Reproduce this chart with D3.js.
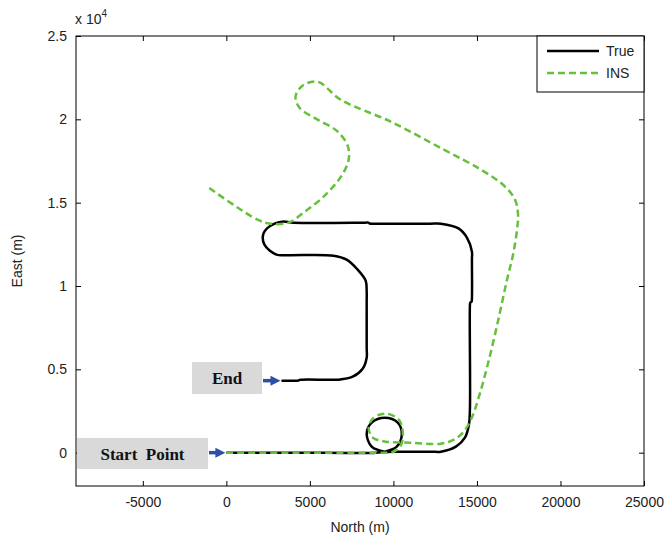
<!DOCTYPE html>
<html>
<head>
<meta charset="utf-8">
<script src="https://cdn.jsdelivr.net/npm/d3@7"></script>
<style>
  body { margin: 0; background: #fff; }
</style>
</head>
<body>
<script>
// track data, [north, east] in metres
var trueTrack = [
  [0, 0], [4000, 0], [9000, 0], [9480, 60], [10200, 360], [10500, 1080], [10260, 1800],
  [9480, 2100], [8700, 1800], [8400, 1140], [8700, 360], [9480, 60], [10140, 60],
  [12300, 60], [12840, 60], [13740, 360], [14280, 900], [14520, 1680], [14580, 2600],
  [14580, 8850], [14600, 9000], [14680, 9060], [14700, 9250], [14700, 11600],
  [14700, 12060], [14400, 12900], [13920, 13440], [12840, 13740], [12200, 13740],
  [8700, 13740], [8580, 13750], [8500, 13800], [8300, 13800], [4020, 13800],
  [3360, 13860], [2640, 13620], [2220, 13140], [2280, 12480], [3000, 11880],
  [3700, 11850], [6420, 11820], [7200, 11580], [7860, 10980], [8340, 10320],
  [8400, 9660], [8400, 9000], [8400, 6300], [8400, 5700], [8160, 5040], [7560, 4560],
  [6720, 4380], [6000, 4380], [4500, 4380], [4380, 4370], [4300, 4320], [4150, 4320],
  [3300, 4320]
];

var insTrack = [
  [0, 0], [5000, 0], [9400, 0], [9960, 40], [10440, 420], [10560, 1260], [10320, 1980],
  [9600, 2340], [8820, 2100], [8520, 1500], [8760, 900], [9540, 660], [11040, 600],
  [12840, 540], [13620, 780], [14160, 1200], [14640, 1980], [15120, 3360], [15720, 5580],
  [16320, 8160], [16800, 10380], [17160, 11880], [17400, 13380], [17460, 14280],
  [17280, 15180], [16620, 16020], [15240, 16980], [13020, 18180], [9840, 19860],
  [6840, 21180], [5460, 22260], [4560, 22020], [4140, 21360], [4380, 20700],
  [5460, 19980], [6600, 19320], [7260, 18420], [7320, 17580], [6900, 16620],
  [5820, 15360], [4620, 14400], [3720, 13800], [2640, 13740], [1860, 13980],
  [-1140, 15960]
];

var xTicks = [-5000, 0, 5000, 10000, 15000, 20000, 25000];
var yTicks = [0, 5000, 10000, 15000, 20000, 25000];
var yTickLabels = ["0", "0.5", "1", "1.5", "2", "2.5"];
var seriesNames = ["True", "INS"];
var seriesColors = ["#000000", "#66c03c"];
var notes = [
  {text: "End", at: [3300, 4320], box: [192, 362, 70, 32]},
  {text: "Start  Point", at: [0, 0], box: [77, 438, 131, 31]}
];

var W = 667, H = 542;
var mLeft = 76, mTop = 36, mRight = 644, mBottom = 486;
var sans = '"Liberation Sans", Arial, sans-serif';

var svg = d3.select('body').append('svg')
  .attr('width', W).attr('height', H);
svg.append('rect').attr('width', W).attr('height', H).attr('fill', '#fff');

var x = d3.scaleLinear().domain([-9000, 25000]).range([mLeft, mRight]);
var y = d3.scaleLinear().domain([-2000, 25000]).range([mBottom, mTop]);

// axes, matlab style ticks pointing in
var xAxis = svg.append('g').attr('transform', 'translate(0,' + mBottom + ')')
  .call(d3.axisBottom(x).tickValues(xTicks).tickSizeInner(-5).tickSizeOuter(0).tickPadding(11)
    .tickFormat(function (d) { return String(d); }));
var yAxis = svg.append('g').attr('transform', 'translate(' + mLeft + ',0)')
  .call(d3.axisLeft(y).tickValues(yTicks).tickSizeInner(-5).tickSizeOuter(0).tickPadding(9)
    .tickFormat(function (d, i) { return yTickLabels[i]; }));
var xTop = svg.append('g').attr('transform', 'translate(0,' + mTop + ')')
  .call(d3.axisTop(x).tickValues(xTicks).tickSizeInner(-5).tickSizeOuter(0).tickFormat(''));
var yRight = svg.append('g').attr('transform', 'translate(' + mRight + ',0)')
  .call(d3.axisRight(y).tickValues(yTicks).tickSizeInner(-5).tickSizeOuter(0).tickFormat(''));

[xAxis, yAxis, xTop, yRight].forEach(function (g) {
  g.select('.domain').remove();
  g.selectAll('line').attr('stroke', '#000');
  g.selectAll('text').attr('font-size', 14).attr('fill', '#222')
    .attr('font-family', sans);
});

svg.append('rect')
  .attr('x', mLeft).attr('y', mTop)
  .attr('width', mRight - mLeft).attr('height', mBottom - mTop)
  .attr('fill', 'none').attr('stroke', '#000').attr('stroke-width', 1);

// exponent label
var ex = svg.append('text').attr('x', 75).attr('y', 24).attr('font-size', 14)
  .attr('fill', '#222').attr('font-family', sans);
ex.append('tspan').text('x 10');
ex.append('tspan').attr('dy', -7).attr('font-size', 10).text('4');

svg.append('text').attr('x', (mLeft + mRight) / 2).attr('y', 532)
  .attr('text-anchor', 'middle').attr('font-size', 14).attr('fill', '#222')
  .attr('font-family', sans)
  .text('North (m)');
svg.append('text')
  .attr('transform', 'translate(22,' + (mTop + mBottom) / 2 + ') rotate(-90)')
  .attr('text-anchor', 'middle').attr('font-size', 14).attr('fill', '#222')
  .attr('font-family', sans)
  .text('East (m)');

var line = d3.line()
  .x(function (d) { return x(d[0]); })
  .y(function (d) { return y(d[1]); })
  .curve(d3.curveCatmullRom.alpha(0.5));

svg.append('path').datum(trueTrack)
  .attr('d', line).attr('fill', 'none')
  .attr('stroke', seriesColors[0]).attr('stroke-width', 2.5)
  .attr('stroke-linejoin', 'round');

svg.append('path').datum(insTrack)
  .attr('d', line).attr('fill', 'none')
  .attr('stroke', seriesColors[1]).attr('stroke-width', 2.5)
  .attr('stroke-dasharray', '7,4');

// annotation boxes and arrows
notes.forEach(function (n) {
  var b = n.box;
  svg.append('rect').attr('x', b[0]).attr('y', b[1]).attr('width', b[2]).attr('height', b[3])
    .attr('fill', '#d9d9d9');
  svg.append('text')
    .attr('x', b[0] + b[2] / 2).attr('y', b[1] + b[3] / 2 + 6)
    .attr('text-anchor', 'middle')
    .attr('font-family', '"Liberation Serif", "Times New Roman", serif')
    .attr('font-weight', 'bold').attr('font-size', 17).attr('fill', '#111')
    .style('white-space', 'pre')
    .text(n.text);
  var tx = x(n.at[0]) - 1, ty = y(n.at[1]);
  var sx = b[0] + b[2] + 1;
  svg.append('line').attr('x1', sx).attr('y1', ty).attr('x2', tx - 8).attr('y2', ty)
    .attr('stroke', '#2f4fa6').attr('stroke-width', 3.5);
  svg.append('path')
    .attr('d', 'M' + tx + ',' + ty + 'L' + (tx - 10) + ',' + (ty - 5) + 'L' + (tx - 10) + ',' + (ty + 5) + 'Z')
    .attr('fill', '#2f4fa6');
});

// legend
var lg = svg.append('g');
lg.append('rect').attr('x', 537).attr('y', mTop).attr('width', mRight - 537).attr('height', 56)
  .attr('fill', '#fff').attr('stroke', '#000').attr('stroke-width', 1);
seriesNames.forEach(function (name, i) {
  var ly = 51 + i * 22;
  lg.append('line').attr('x1', 547).attr('x2', 599).attr('y1', ly).attr('y2', ly)
    .attr('stroke', seriesColors[i]).attr('stroke-width', 2.5)
    .attr('stroke-dasharray', i === 1 ? '7,4' : null);
  lg.append('text').attr('x', 606).attr('y', ly + 5).attr('font-size', 14).attr('fill', '#222')
    .attr('font-family', sans)
    .text(name);
});
</script>
</body>
</html>
